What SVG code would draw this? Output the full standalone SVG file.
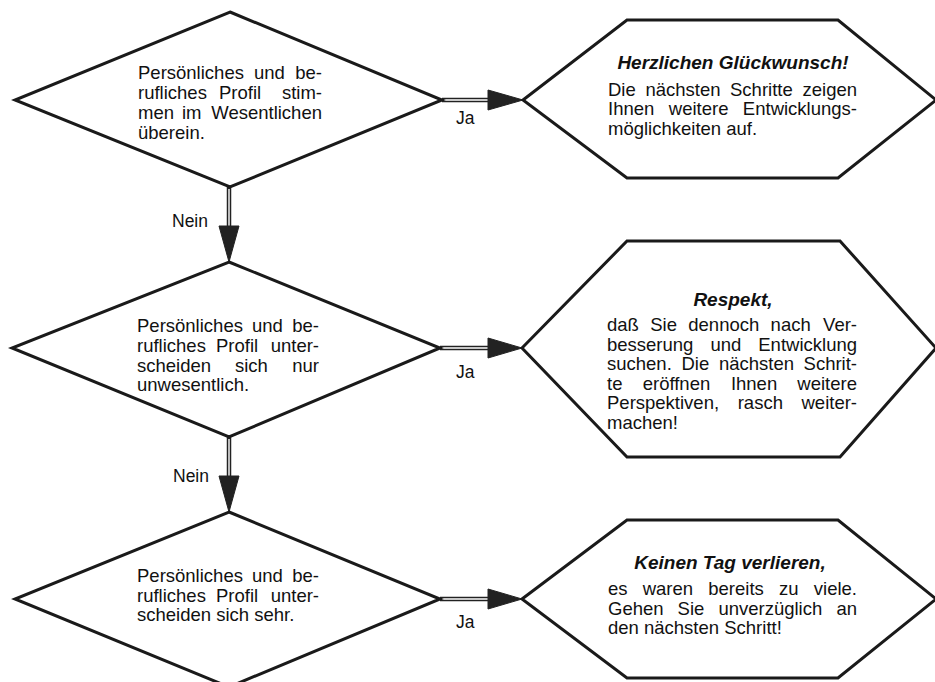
<svg xmlns="http://www.w3.org/2000/svg" width="935" height="682" viewBox="0 0 935 682">
<defs>
<style>
.shape{fill:#fff;stroke:#1a1a1a;stroke-width:3;stroke-linejoin:miter}
.t{font-family:"Liberation Sans",Arial,sans-serif;font-size:18.5px;fill:#111}
.h{font-family:"Liberation Sans",Arial,sans-serif;font-size:18.5px;fill:#111}
.ti{font-family:"Liberation Sans",Arial,sans-serif;font-size:19px;font-weight:bold;font-style:italic;fill:#111;text-anchor:middle}
.lbl{font-family:"Liberation Sans",Arial,sans-serif;font-size:17.5px;fill:#111}
.e{text-anchor:end}
.outer{stroke:#222;stroke-width:4.5;fill:none}
.inner{stroke:#fff;stroke-width:1.4;fill:none}
.head{fill:#222;stroke:#222;stroke-width:1}
</style>
</defs>
<rect width="935" height="682" fill="#fff"/>

<g id="connectors">
  <line class="outer" x1="442" y1="100" x2="490" y2="100"/>
  <line class="inner" x1="444" y1="100" x2="488" y2="100"/>
  <polygon class="head" points="488,90 523,100 488,110"/>
  <line class="outer" x1="440" y1="348" x2="490" y2="348"/>
  <line class="inner" x1="442" y1="348" x2="488" y2="348"/>
  <polygon class="head" points="488,338 522,348 488,358"/>
  <line class="outer" x1="440" y1="599" x2="490" y2="599"/>
  <line class="inner" x1="442" y1="599" x2="488" y2="599"/>
  <polygon class="head" points="488,589 522,599 488,609"/>
  <line class="outer" x1="229" y1="187" x2="229" y2="228"/>
  <line class="inner" x1="229" y1="189" x2="229" y2="226"/>
  <polygon class="head" points="219,226 229,262 239,226"/>
  <line class="outer" x1="229" y1="437" x2="229" y2="478"/>
  <line class="inner" x1="229" y1="439" x2="229" y2="476"/>
  <polygon class="head" points="219,476 229,512 239,476"/>
  <text class="lbl" x="456" y="124">Ja</text>
  <text class="lbl" x="456" y="378">Ja</text>
  <text class="lbl" x="456" y="628">Ja</text>
  <text class="lbl" x="172" y="227">Nein</text>
  <text class="lbl" x="173" y="482">Nein</text>
</g>

<g id="decision1">
  <polygon class="shape" points="230,12 442,100 230,187 15,100"/>
  <text class="t" y="79"><tspan x="138">Persönliches</tspan><tspan x="254">und</tspan><tspan x="322" class="e">be-</tspan></text>
  <text class="t" y="99"><tspan x="138">rufliches</tspan><tspan x="219">Profil</tspan><tspan x="322" class="e">stim-</tspan></text>
  <text class="t" y="119"><tspan x="138">men</tspan><tspan x="182">im</tspan><tspan x="322" class="e">Wesentlichen</tspan></text>
  <text class="t" x="138" y="139">überein.</text>
</g>

<g id="decision2">
  <polygon class="shape" points="229,262 440,348 229,437 12,348"/>
  <text class="t" y="332"><tspan x="137">Persönliches</tspan><tspan x="252">und</tspan><tspan x="319" class="e">be-</tspan></text>
  <text class="t" y="352"><tspan x="137">rufliches</tspan><tspan x="216">Profil</tspan><tspan x="319" class="e">unter-</tspan></text>
  <text class="t" y="371.5"><tspan x="137">scheiden</tspan><tspan x="235">sich</tspan><tspan x="319" class="e">nur</tspan></text>
  <text class="t" x="137" y="391">unwesentlich.</text>
</g>

<g id="decision3">
  <polygon class="shape" points="229,512 440,599 229,687 15,599"/>
  <text class="t" y="582"><tspan x="137">Persönliches</tspan><tspan x="252">und</tspan><tspan x="319" class="e">be-</tspan></text>
  <text class="t" y="601.5"><tspan x="137">rufliches</tspan><tspan x="216">Profil</tspan><tspan x="319" class="e">unter-</tspan></text>
  <text class="t" x="137" y="621">scheiden sich sehr.</text>
</g>

<g id="result1">
  <polygon class="shape" points="523,100 627,20 838,20 936,100 838,178 627,178"/>
  <text class="ti" x="733" y="68.5">Herzlichen Glückwunsch!</text>
  <text class="h" y="95.5"><tspan x="608">Die</tspan><tspan x="645.4">nächsten</tspan><tspan x="730">Schritte</tspan><tspan x="857" class="e">zeigen</tspan></text>
  <text class="h" y="115"><tspan x="608">Ihnen</tspan><tspan x="668.8">weitere</tspan><tspan x="857" class="e">Entwicklungs-</tspan></text>
  <text class="h" x="608" y="134.5">möglichkeiten auf.</text>
</g>

<g id="result2">
  <polygon class="shape" points="522,348 627,241 840,241 936,348 840,457 627,457"/>
  <text class="ti" x="733" y="306">Respekt,</text>
  <text class="h" y="331"><tspan x="607">daß</tspan><tspan x="650.2">Sie</tspan><tspan x="688.3">dennoch</tspan><tspan x="770.6">nach</tspan><tspan x="857" class="e">Ver-</tspan></text>
  <text class="h" y="350.5"><tspan x="607">besserung</tspan><tspan x="710.4">und</tspan><tspan x="857" class="e">Entwicklung</tspan></text>
  <text class="h" y="370"><tspan x="607">suchen.</tspan><tspan x="681.5">Die</tspan><tspan x="718.9">nächsten</tspan><tspan x="857" class="e">Schrit-</tspan></text>
  <text class="h" y="389.5"><tspan x="607">te</tspan><tspan x="642.7">eröffnen</tspan><tspan x="730.9">Ihnen</tspan><tspan x="857" class="e">weitere</tspan></text>
  <text class="h" y="409"><tspan x="607">Perspektiven,</tspan><tspan x="737.7">rasch</tspan><tspan x="857" class="e">weiter-</tspan></text>
  <text class="h" x="607" y="428.5">machen!</text>
</g>

<g id="result3">
  <polygon class="shape" points="522,599 627,520 838,520 936,599 838,678 627,678"/>
  <text class="ti" x="730" y="568.5">Keinen Tag verlieren,</text>
  <text class="h" y="595"><tspan x="608">es</tspan><tspan x="642.7">waren</tspan><tspan x="708.3">bereits</tspan><tspan x="779">zu</tspan><tspan x="857" class="e">viele.</tspan></text>
  <text class="h" y="614.5"><tspan x="608">Gehen</tspan><tspan x="677.6">Sie</tspan><tspan x="718.4">unverzüglich</tspan><tspan x="857" class="e">an</tspan></text>
  <text class="h" x="608" y="634">den nächsten Schritt!</text>
</g>
</svg>
